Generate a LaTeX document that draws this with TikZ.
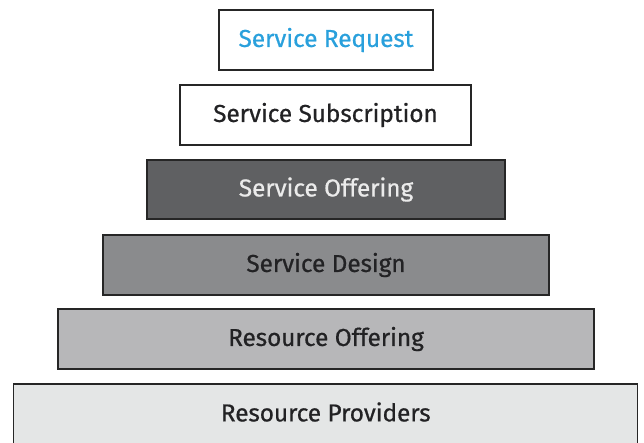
\documentclass[tikz,border=0pt]{standalone}
\usepackage{fontspec}
\setmainfont{Fira Sans}[FakeBold=0.6,LetterSpace=-0.5]
\definecolor{reqblue}{RGB}{41,160,220}
\definecolor{tierdark}{RGB}{95,96,98}
\definecolor{tiermid}{RGB}{138,139,141}
\definecolor{tierlight}{RGB}{183,183,185}
\definecolor{tierpale}{RGB}{228,230,230}
\definecolor{tiertext}{RGB}{34,34,36}

\begin{document}
\begin{tikzpicture}[x=1pt,y=-1pt,
   every node/.style={draw=black!85,line width=1.3pt,rectangle,
        minimum height=60pt,inner sep=0pt,text=tiertext,
        font=\fontsize{24.5}{28}\selectfont},
   tier/.style={minimum width=#1}]

\useasboundingbox (0,0) rectangle (644,442);
\clip (0,0) rectangle (644,442);

\node[tier=214pt,text=reqblue] (request) at (326,40) {Service Request};
\node[tier=291pt] (subscription) at (325.5,115) {Service Subscription};
\node[tier=358pt,minimum height=59pt,fill=tierdark,text=black!8] (soffering) at (326,189.5) {Service Offering};
\node[tier=446pt,fill=tiermid] (design) at (326,265) {Service Design};
\node[tier=536pt,fill=tierlight] (roffering) at (326,339) {Resource Offering};
% bottom tier runs past the lower edge
\node[tier=624pt,minimum height=66pt,fill=tierpale] (providers) at (325.75,417)
    {\raisebox{5pt}[\height][\depth]{Resource Providers}};

\end{tikzpicture}
\end{document}
